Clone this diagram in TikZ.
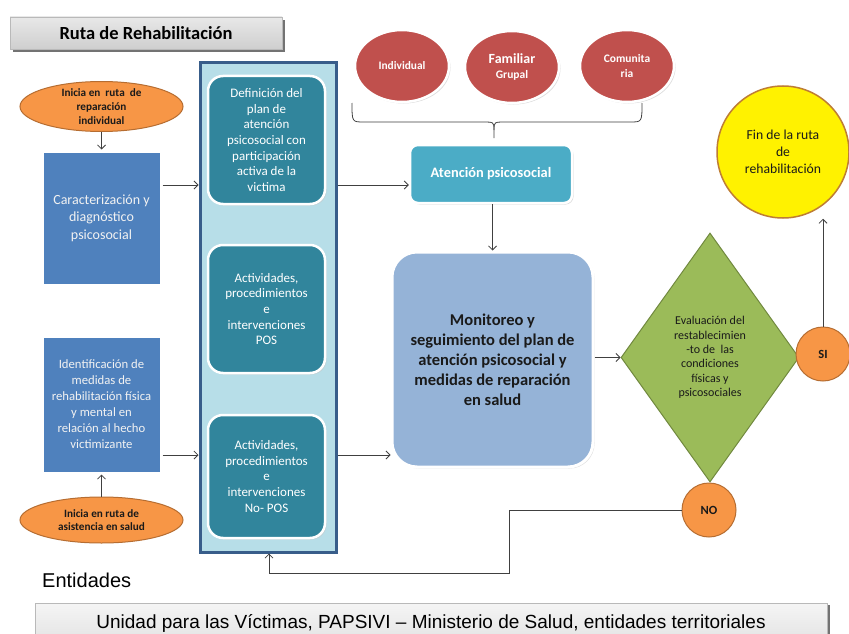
\documentclass[tikz,border=0pt]{standalone}
\usepackage{fontspec}
\setmainfont{Carlito}
\newfontfamily\arialf{Liberation Sans}
\usetikzlibrary{shapes.geometric,arrows.meta,shadows}
\definecolor{tealbox}{HTML}{31859C}
\definecolor{bluebox}{HTML}{4F81BD}
\definecolor{panelfill}{HTML}{B7DEE8}
\definecolor{panelline}{HTML}{385D8A}
\definecolor{orangef}{HTML}{F79646}
\definecolor{oranged}{HTML}{B66D31}
\definecolor{redf}{HTML}{C0504D}
\definecolor{atenf}{HTML}{4BACC6}
\definecolor{monif}{HTML}{95B3D7}
\definecolor{diaf}{HTML}{9BBB59}
\definecolor{diad}{HTML}{71893F}
\definecolor{yellowd}{HTML}{BE7D34}
\definecolor{txtdark}{HTML}{1A1A1A}
\tikzset{
  shad/.style={drop shadow={shadow xshift=1.5pt,shadow yshift=-1.5pt,fill=black!22,opacity=0.6}},
  arr/.style={draw=black!75,line width=0.8pt,-{Straight Barb[length=4pt,width=8pt]}},
  lbox/.style={rectangle,fill=bluebox,draw=white,line width=3pt,shad,inner sep=0pt,
    minimum width=119pt,align=center,text=white!95!black},
  tbox/.style={rectangle,rounded corners=15pt,fill=tealbox,draw=white,line width=2.5pt,shad,
    inner sep=0pt,minimum width=117pt,align=center,text=white,
    font=\fontsize{13}{15.6}\selectfont},
  oell/.style={ellipse,fill=orangef,draw=oranged,line width=1pt,inner sep=0pt,
    minimum width=163pt,align=center,text=txtdark,font=\bfseries\fontsize{11.2}{13.7}\selectfont},
  rell/.style={ellipse,fill=redf,draw=white,line width=2.5pt,shad,inner sep=0pt,
    minimum width=94pt,minimum height=72pt,align=center,text=white},
  ocirc/.style={circle,fill=orangef,draw=oranged,line width=1pt,inner sep=0pt,
    minimum size=54pt,text=txtdark,font=\bfseries\fontsize{12.5}{14}\selectfont},
  graybox/.style={rectangle,top color=gray!18,bottom color=gray!38,draw=gray!55,line width=0.8pt,
    inner sep=0pt}
}
\begin{document}
\begin{tikzpicture}[x=1pt,y=-1pt]
\useasboundingbox (0,0) rectangle (849,634);
\fill[white] (0,0) rectangle (849,634);

% title
\fill[black!55] (13,20) rectangle (285,52);
\node[graybox,minimum width=272pt,minimum height=32pt,font=\bfseries\fontsize{18.5}{20}\selectfont] (title) at (146,33) {Ruta de Rehabilitación};

% big panel
\node[rectangle,fill=panelfill,draw=panelline,line width=3pt,minimum width=136pt,minimum height=489pt,inner sep=0pt] (panel) at (268,307.5) {};

% panel inner boxes
\node[tbox,minimum height=128pt] (p1) at (266.5,140) {Definición del\\plan de\\atención\\psicosocial con\\participación\\activa de la\\victima};
\node[tbox,minimum height=128pt] (p2) at (266.5,309) {Actividades,\\procedimientos\\e\\intervenciones\\POS};
\node[tbox,minimum height=123pt] (p3) at (266.5,476.5) {Actividades,\\procedimientos\\e\\intervenciones\\No- POS};

% left side
\node[oell,minimum height=49pt] (ell1) at (101.5,106.5) {Inicia en \ ruta \ de\\reparación\\individual};
\node[lbox,minimum height=134pt,font=\fontsize{14}{17.5}\selectfont] (car) at (101.5,218) {Caracterización y\\diagnóstico\\psicosocial};
\node[lbox,minimum height=137pt,font=\fontsize{12.7}{16}\selectfont] (ident) at (101.5,404.5) {Identificación de\\medidas de\\rehabilitación física\\y mental en\\relación al hecho\\victimizante};
\node[oell,minimum height=46pt] (ell2) at (101.5,520) {Inicia en ruta de\\asistencia en salud};

% red ellipses
\node[rell,font=\bfseries\fontsize{11.4}{13}\selectfont] (ind) at (402,66) {Individual};
\node[rell] (fam) at (512,67) {{\bfseries\fontsize{14}{16}\selectfont Familiar}\\[3pt]{\bfseries\fontsize{11.5}{13}\selectfont Grupal}};
\node[rell,font=\bfseries\fontsize{11.5}{15}\selectfont] (com) at (627,66) {Comunita\\ria};

% brace
\draw[black!75,line width=0.8pt] (352,103) .. controls (352,122) .. (364,122) -- (482,122) .. controls (494,122) .. (494,130) -- (494,138);
\draw[black!75,line width=0.8pt] (642,103) .. controls (642,122) .. (630,122) -- (506,122) .. controls (494,122) .. (494,130);

% atención
\node[rectangle,rounded corners=8pt,fill=atenf,draw=white,line width=2.5pt,shad,minimum width=162pt,minimum height=58pt,inner sep=0pt,text=white,font=\bfseries\fontsize{14.4}{16}\selectfont] (aten) at (491,174) {Atención psicosocial};

% monitoreo
\node[rectangle,rounded corners=25pt,fill=monif,draw=white,line width=3pt,shad,minimum width=201pt,minimum height=215pt,inner sep=0pt,align=center,text=txtdark,font=\bfseries\fontsize{16.5}{20}\selectfont] (moni) at (492.5,359.5) {Monitoreo y\\seguimiento del plan de\\atención psicosocial y\\medidas de reparación\\en salud};

% diamond
\node[diamond,aspect=0.7,fill=diaf,draw=diad,line width=1pt,minimum width=178pt,minimum height=249pt,inner sep=0pt,align=center,text=txtdark,font=\fontsize{12}{14.3}\selectfont] (dia) at (710,357.5) {Evaluación del\\restablecimien\\-to de \ las\\condiciones\\físicas y\\psicosociales};

% end circle
\node[circle,fill=yellow,draw=yellowd,line width=1.5pt,minimum size=132pt,inner sep=0pt,align=center,text=txtdark,font=\fontsize{13.7}{17}\selectfont] (fin) at (783,152) {Fin de la ruta\\de\\rehabilitación};

\node[ocirc] (si) at (823,354) {SI};
\node[ocirc] (no) at (709,510) {NO};

% coordinates
\coordinate (ya) at (0,185);
\coordinate (yb) at (0,455);
\coordinate (nx) at (509,0);
\coordinate (ny) at (0,573);
\coordinate (px) at (269,0);

% connectors
\draw[arr] (ell1.south) -- (ell1.south |- car.north);
\draw[arr] (ell2.north) -- (ell2.north |- ident.south);
\draw[arr] (car.east |- ya) -- (panel.west |- ya);
\draw[arr] (ident.east |- yb) -- (panel.west |- yb);
\draw[arr] (panel.east |- ya) -- (aten.west |- ya);
\draw[arr] (aten.south -| moni.north) -- (moni.north);
\draw[arr] (panel.east |- yb) -- (moni.west |- yb);
\draw[arr] (moni.east |- dia.west) -- (dia.west);
\draw[arr] (si.north) -- (fin.south -| si.north);
\draw[arr] (no.west) -- (nx |- no.west) -- (nx |- ny) -- (px |- ny) -- (px |- panel.south);

% entidades
\node[anchor=base west,inner sep=0pt,font=\arialf\fontsize{20}{22}\selectfont,text=black] (ent) at (42,587) {Entidades};
\fill[black!55] (38,605) rectangle (830,645);
\node[graybox,top color=gray!8,bottom color=gray!22,minimum width=792pt,minimum height=40pt,font=\arialf\fontsize{19}{22}\selectfont] (unid) at (431,623) {\raisebox{2pt}{Unidad para las Víctimas, PAPSIVI – Ministerio de Salud, entidades territoriales}};
\end{tikzpicture}
\end{document}
